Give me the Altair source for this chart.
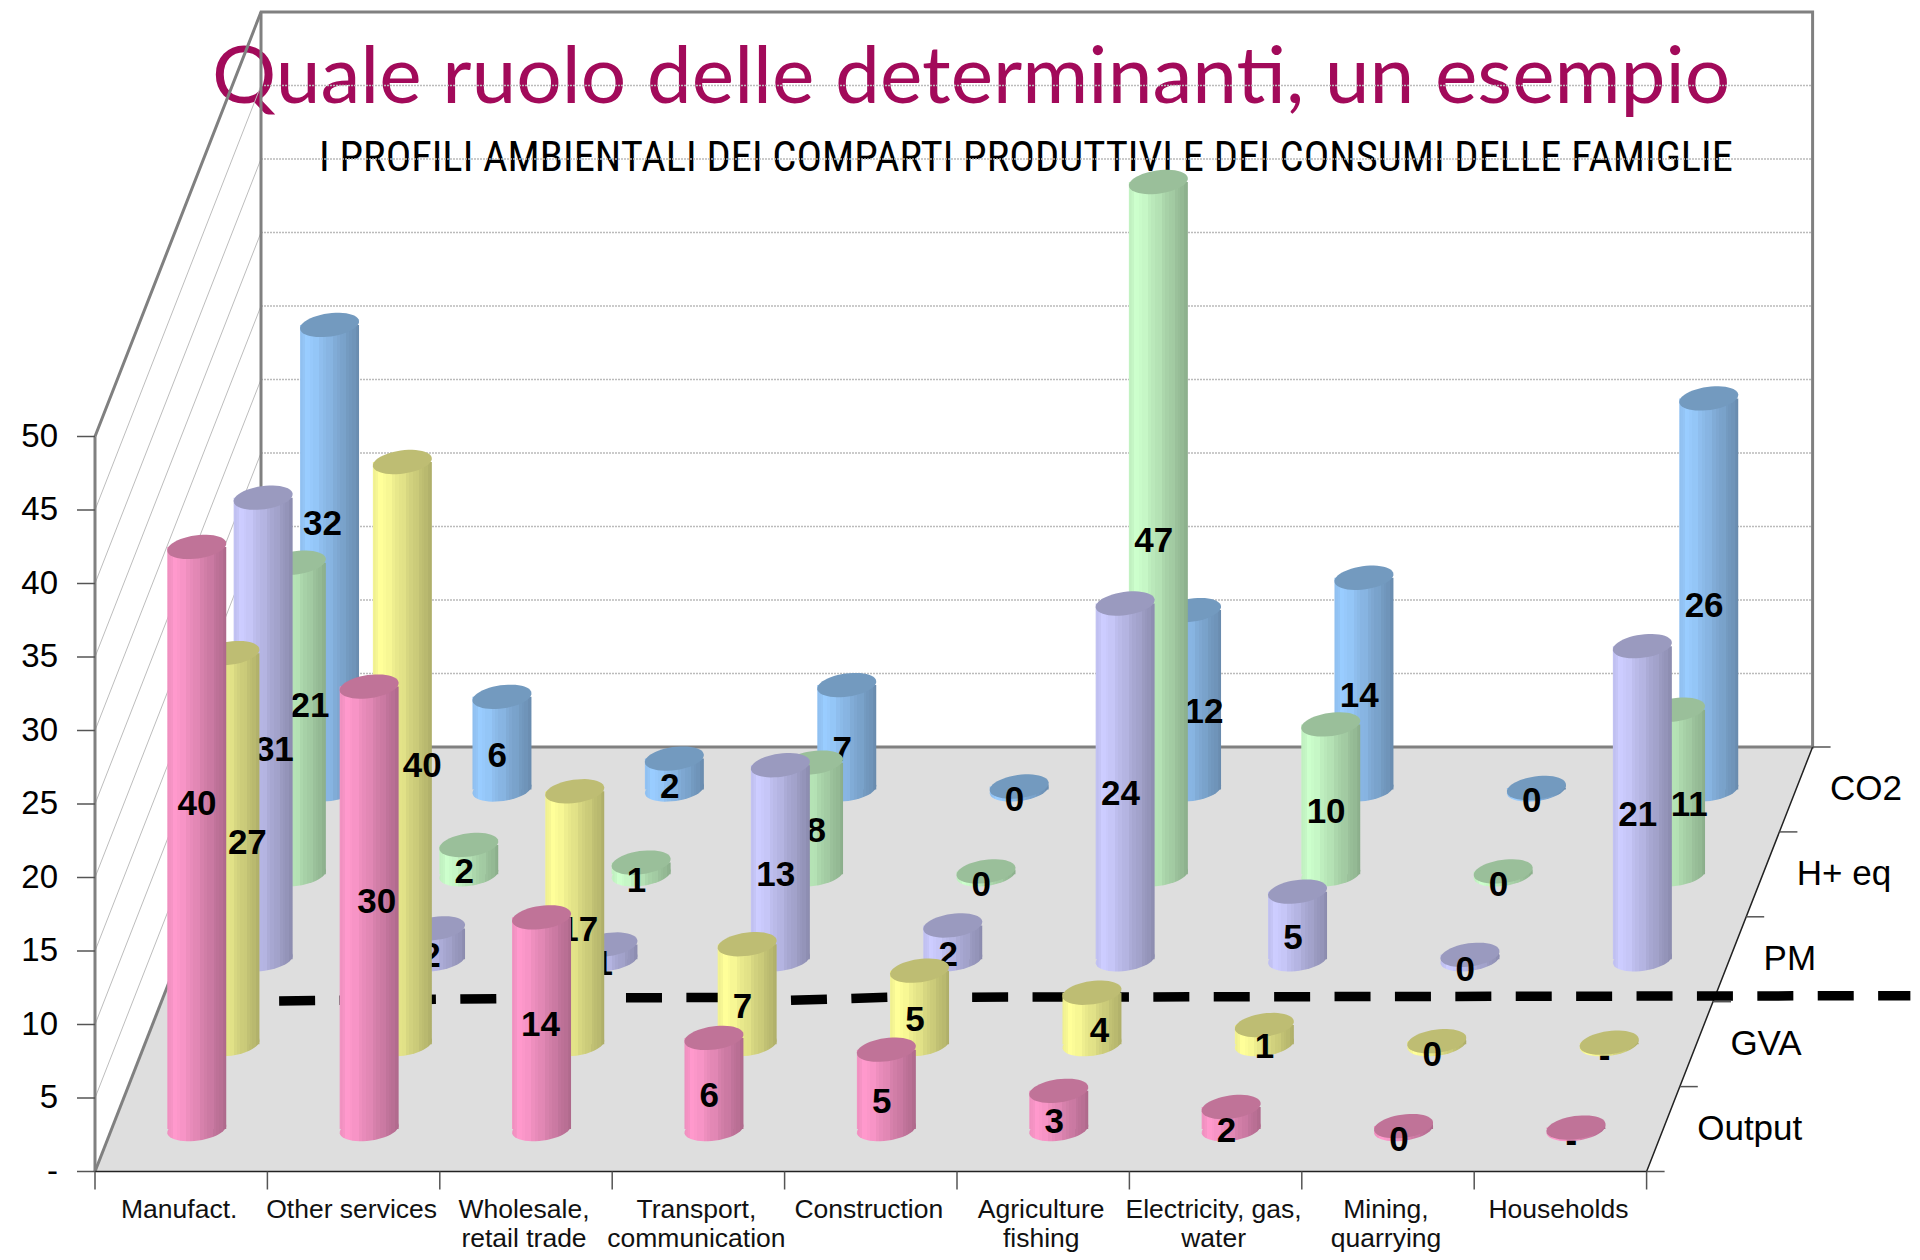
import math
import altair as alt
import pandas as pd

# ---- data -------------------------------------------------------------
categories = [
    ["Manufact."], ["Other services"], ["Wholesale,", "retail trade"],
    ["Transport,", "communication"], ["Construction"], ["Agriculture", "fishing"],
    ["Electricity, gas,", "water"], ["Mining,", "quarrying"], ["Households"],
]
series_names = ["Output", "GVA", "PM", "H+ eq", "CO2 eq"]

output_vals = [39.6, 30.1, 14.4, 6.2, 5.4, 2.6, 1.5, 0.2, 0.1]
gva_vals = [26.6, 39.6, 17.2, 6.8, 5.0, 3.5, 1.3, 0.2, 0.1]
pm_vals = [31.4, 2.1, 1.0, 13.2, 2.3, 24.2, 4.6, 0.3, 21.3]
hplus_vals = [21.2, 2.0, 0.8, 7.6, 0.2, 47.1, 10.2, 0.2, 11.2]
co2_vals = [31.6, 6.3, 2.1, 7.1, 0.2, 12.2, 14.4, 0.1, 26.6]
series_vals = [output_vals, gva_vals, pm_vals, hplus_vals, co2_vals]

output_labels = ["40", "30", "14", "6", "5", "3", "2", "0", "-"]
gva_labels = ["27", "40", "17", "7", "5", "4", "1", "0", "-"]
pm_labels = ["31", "2", "1", "13", "2", "24", "5", "0", "21"]
hplus_labels = ["21", "2", "1", "8", "0", "47", "10", "0", "11"]
co2_labels = ["32", "6", "2", "7", "0", "12", "14", "0", "26"]
series_labels = [output_labels, gva_labels, pm_labels, hplus_labels, co2_labels]

value_ticks = list(range(5, 55, 5))
title_text = "Quale ruolo delle determinanti, un esempio"
subtitle_text = "I PROFILI AMBIENTALI DEI COMPARTI PRODUTTIVI E DEI CONSUMI DELLE FAMIGLIE"

# labels hand-moved in the original: (series, category) -> (across, up)
label_moves = {
    (0, 0): (0.028, 3.15), (0, 1): (0.071, 1.25), (0, 2): (0.021, 0.75),
    (1, 0): (0.128, 1.2), (1, 1): (0.142, 0), (1, 2): (0.050, 0), (1, 5): (0.071, 0), (1, 6): (0.028, 0),
    (2, 0): (0.092, -0.6),
    (3, 0): (0.106, 1.7), (3, 3): (0.043, 0), (3, 8): (0.106, 0),
    (4, 0): (-0.014, 3.1), (4, 5): (0.099, 0),
}

# dashed reference level (category position, value height)
dash_a_x, dash_a_y = [1.068, 2.9], [11.6, 11.82]
dash_b_x, dash_b_y = [3.08, 3.95], [11.82, 11.85]
dash_c_x, dash_c_y = [4.037, 4.6, 10.53], [11.65, 11.85, 11.96]

# ---- geometry ----------------------------------------------------------
W, H = 1904, 1244
PX_CAT, PX_VAL = 172.4, 14.7
X0, Y0 = 95.0, 1171.5
DX, DY = 33.2 / PX_CAT, 84.9 / PX_VAL
HALF = 0.171
BAR_SHIFT = -0.006
xs = alt.Scale(domain=[(8 - X0) / PX_CAT, (8 + W - X0) / PX_CAT], nice=False, zero=False)
ys = alt.Scale(domain=[(Y0 - 8 - H) / PX_VAL, (Y0 - 8) / PX_VAL], nice=False, zero=False)
N = len(categories)
D = len(series_names)


def proj(cat, depth, val):
    return cat + depth * DX, val + depth * DY


X = lambda f="x": alt.X(f"{f}:Q", scale=xs, axis=None)
Y = lambda f="y": alt.Y(f"{f}:Q", scale=ys, axis=None)


def polyline(points, color, width, dash=None, group=None):
    df = pd.DataFrame([{"x": proj(*p)[0], "y": proj(*p)[1], "k": i} for i, p in enumerate(points)])
    kw = {"strokeDash": dash} if dash else {}
    return alt.Chart(df).mark_line(color=color, strokeWidth=width, strokeCap="butt", clip=False, **kw).encode(
        x=X(), y=Y(), order="k:Q")


def labels_at(rows, **mark):
    return alt.Chart(pd.DataFrame(rows)).mark_text(**mark).encode(x=X(), y=Y(), text="t:N")


layers = []
# title is under the wall and the grid
layers.append(labels_at([{"x": (212 - X0) / PX_CAT, "y": (Y0 - 103) / PX_VAL, "t": title_text}],
                        font="Lato", fontSize=80.3, color="#A20A5A", align="left", baseline="alphabetic"))
layers.append(labels_at([{"x": (319 - X0) / PX_CAT, "y": (Y0 - 171) / PX_VAL, "t": subtitle_text}],
                        font="Roboto Condensed, Liberation Sans", fontSize=42.6, color="black", align="left", baseline="alphabetic"))

# floor
fl = [
    {"x": proj(0, 0, 0)[0], "y": 0, "y2": 0},
    {"x": proj(0, D, 0)[0], "y": proj(0, D, 0)[1], "y2": 0},
    {"x": proj(N, 0, 0)[0], "y": proj(0, D, 0)[1], "y2": 0},
    {"x": proj(N, D, 0)[0], "y": proj(0, D, 0)[1], "y2": proj(0, D, 0)[1]},
]
layers.append(alt.Chart(pd.DataFrame(fl)).mark_area(color="#DEDEDE", opacity=1).encode(x=X(), y=Y(), y2="y2:Q"))

# grid
for v in value_ticks[:-1]:
    layers.append(polyline([(0, D, v), (N, D, v)], "#BBBBBB", 1.5, dash=[2, 1]))
    layers.append(polyline([(0, 0, v), (0, D, v)], "#BDBDBD", 1))
# walls
GR = "#808080"
layers.append(polyline([(0, 0, 50), (0, D, 50), (N, D, 50), (N, D, 0), (0, D, 0)], GR, 3))
layers.append(polyline([(0, D, 50), (0, D, 0)], GR, 3))
layers.append(polyline([(0, 0, 0), (0, D, 0)], GR, 3))
layers.append(polyline([(0, 0, 50), (0, 0, 0)], GR, 3))
layers.append(polyline([(0, 0, 0), (N, 0, 0), (N, D, 0)], "#222222", 1.5))

# ticks
tick_x = 18 / PX_CAT
tick_y = 18 / PX_VAL
for v in [0] + value_ticks:
    layers.append(polyline([(-tick_x, 0, v), (0, 0, v)], "#555555", 1.5))
for i in range(N + 1):
    layers.append(polyline([(i, 0, 0), (i, 0, -tick_y)], "#555555", 1.5))
for s in range(D + 1):
    layers.append(polyline([(N, s, 0), (N + tick_x, s, 0)], "#555555", 1.5))

# tick texts
layers.append(labels_at([{"x": -37 / PX_CAT, "y": v, "t": str(v)} for v in value_ticks]
                        + [{"x": -37 / PX_CAT, "y": 0, "t": "-"}],
                        font="Liberation Sans", fontSize=33, color="black", align="right", baseline="middle"))
rows = []
for i, c in enumerate(categories):
    for j, line in enumerate(c):
        rows.append({"x": i + 0.5 - 2 / PX_CAT, "y": (Y0 - 1217.5 - j * 29.5) / PX_VAL, "t": line})
layers.append(labels_at(rows, font="Liberation Sans", fontSize=26.5, color="#111111", align="center", baseline="alphabetic"))
layers.append(labels_at([{"x": proj(N + 34 / PX_CAT, s + 0.5, 0)[0], "y": proj(N, s + 0.5, 0)[1], "t": n}
                         for s, n in enumerate(series_names)],
                        font="Liberation Sans", fontSize=35, color="black", align="left", baseline="middle"))


# ---- cylinders ---------------------------------------------------------
def hexc(rgb, f):
    return "#%02x%02x%02x" % tuple(min(255, int(round(c * f))) for c in rgb)


def shade(t):
    if t < 0.14:
        return 0.93 + 0.07 * t / 0.14
    return 1.0 - 0.32 * ((t - 0.14) / 0.86) ** 1.1


def gradient(rgb, n=26):
    stops = []
    for k in range(n):
        t0 = (1 - math.cos(math.pi * k / n)) / 2
        t1 = (1 - math.cos(math.pi * (k + 1) / n)) / 2
        f = shade((t0 + t1) / 2) * (1.02 if k % 4 == 1 else 1.0)
        col = hexc(rgb, f)
        stops += [{"offset": round(t0, 4), "color": col}, {"offset": round(t1, 4), "color": col}]
    return {"gradient": "linear", "x1": 0, "x2": 1, "y1": 0, "y2": 0, "stops": stops}


def ellipse_path(tilt=-8, ratio=0.39, n=48):
    a, b = 1.0, ratio
    th = math.radians(tilt)
    ext = math.hypot(a * math.cos(th), b * math.sin(th))
    pts = []
    for k in range(n):
        u = 2 * math.pi * k / n
        x0, y0 = a * math.cos(u) / ext, b * math.sin(u) / ext
        pts.append((x0 * math.cos(th) - y0 * math.sin(th), x0 * math.sin(th) + y0 * math.cos(th)))
    return "M" + "L".join(f"{x:.4f},{y:.4f}" for x, y in pts) + "Z"


ELL = ellipse_path()
SIZE = (2 * HALF * PX_CAT) ** 2
series_rgb = [(255, 153, 204), (255, 255, 153), (204, 204, 255), (204, 255, 204), (153, 204, 255)]
top_colors = ["#C07398", "#BEBD73", "#9A9ABF", "#9ABF9A", "#739ABF"]
LABEL_SHIFT = -0.027


def dashed():
    out = []
    for xx, yy in [(dash_a_x, dash_a_y), (dash_b_x, dash_b_y), (dash_c_x, dash_c_y)]:
        out.append(polyline([(a, 0, b) for a, b in zip(xx, yy)], "black", 9.5, dash=[36, 24.4]))
    return out


for s in range(D - 1, -1, -1):
    if s == 1:
        layers += dashed()
    rows, lab = [], []
    for i in range(N):
        v = series_vals[s][i]
        xc, yb = proj(i + 0.5, s + 0.5, 0)
        xc += BAR_SHIFT
        rows.append({"x": xc, "x0": xc - HALF, "x1": xc + HALF, "y": yb, "top": yb + v})
        mx, my = label_moves.get((s, i), (0, 0))
        lab.append({"x": xc + LABEL_SHIFT + mx, "y": yb + v / 2 - 0.85 + my, "t": series_labels[s][i]})
    df = pd.DataFrame(rows)
    g = gradient(series_rgb[s])
    layers.append(alt.Chart(df).mark_point(shape=ELL, size=SIZE, filled=True, fill=g, opacity=1, strokeWidth=0)
                  .encode(x=X(), y=Y()))
    layers.append(alt.Chart(df).mark_rect(fill=g, opacity=1).encode(x=X("x0"), x2="x1:Q", y=Y("top"), y2="y:Q"))
    layers.append(alt.Chart(df).mark_point(shape=ELL, size=SIZE, filled=True, fill=top_colors[s], opacity=1, strokeWidth=0)
                  .encode(x=X(), y=Y("top")))
    layers.append(labels_at(lab, font="Liberation Sans", fontWeight="bold", fontSize=35, color="black",
                            align="center", baseline="middle"))

chart = alt.layer(*layers).properties(
    width=W, height=H, padding=0, autosize=alt.AutoSizeParams(type="none"), background="white"
).configure_view(stroke=None)

chart.save("out.html", embed_options={"renderer": "svg", "actions": False})
